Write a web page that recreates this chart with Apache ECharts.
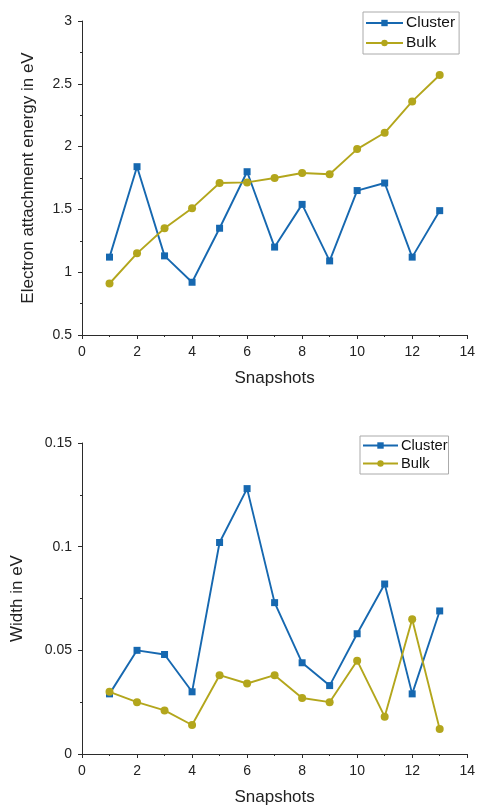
<!DOCTYPE html>
<html>
<head>
<meta charset="utf-8">
<script src="https://cdn.jsdelivr.net/npm/echarts@6/dist/echarts.min.js"></script>
<style>
html,body{margin:0;padding:0;background:#fff;}
#chart{width:478px;height:807px;}
</style>
</head>
<body>
<div id="chart"></div>
<script>
const snapshots = [1,2,3,4,5,6,7,8,9,10,11,12,13];
const energyCluster = [1.12,1.84,1.13,0.92,1.35,1.80,1.20,1.54,1.09,1.65,1.71,1.12,1.49];
const energyBulk = [0.91,1.15,1.35,1.51,1.71,1.715,1.75,1.79,1.78,1.98,2.11,2.36,2.57];
const widthCluster = [0.029,0.050,0.048,0.030,0.102,0.128,0.073,0.044,0.033,0.058,0.082,0.029,0.069];
const widthBulk = [0.030,0.025,0.021,0.014,0.038,0.034,0.038,0.027,0.025,0.045,0.018,0.065,0.012];
const xTicks = [0,2,4,6,8,10,12,14];
const energyTicks = [0.5,1,1.5,2,2.5,3];
const widthTicks = [0,0.05,0.1,0.15];

const FONT = "'Liberation Sans', Arial, sans-serif";
const BLUE = '#1668b0';
const OLIVE = '#b3a61c';
const AX = '#2b2b2b';

function pairs(ys){ return snapshots.map((x,i)=>[x, ys[i]]); }

function xAxisCfg(gi){
  return {
    gridIndex: gi, type:'value', min: xTicks[0], max: xTicks[xTicks.length-1], interval: 2,
    name:'Snapshots', nameLocation:'middle', nameGap: 35,
    nameTextStyle:{fontFamily:FONT,fontSize:17,color:'#222'},
    axisLine:{show:true,lineStyle:{color:AX,width:1}},
    axisTick:{show:true,inside:false,length:4,lineStyle:{color:AX}},
    minorTick:{show:true,splitNumber:2,length:2,lineStyle:{color:AX}},
    splitLine:{show:false},
    axisLabel:{fontFamily:FONT,fontSize:14,color:'#222',margin:10,showMinLabel:true,showMaxLabel:true}
  };
}
function yAxisCfg(gi, ticks, name, gap, fmt){
  return {
    gridIndex: gi, type:'value', min: ticks[0], max: ticks[ticks.length-1], interval: ticks[1]-ticks[0],
    name:name, nameLocation:'middle', nameGap: gap,
    nameTextStyle:{fontFamily:FONT,fontSize:17,color:'#222'},
    axisLine:{show:true,lineStyle:{color:AX,width:1}},
    axisTick:{show:true,inside:false,length:4,lineStyle:{color:AX}},
    minorTick:{show:true,splitNumber:2,length:2,lineStyle:{color:AX}},
    splitLine:{show:false},
    axisLabel:{fontFamily:FONT,fontSize:14,color:'#222',margin:10,formatter:fmt,showMinLabel:true,showMaxLabel:true}
  };
}
function fmtE(v){ return String(Math.round(v*100)/100); }
function fmtW(v){ return String(Math.round(v*1000)/1000); }

function lineSeries(name, color, symbol, size, xi, data){
  return {
    name:name, type:'line', xAxisIndex:xi, yAxisIndex:xi, data:data,
    symbol:symbol, symbolSize:size, showAllSymbol:true,
    lineStyle:{color:color,width:1.9}, itemStyle:{color:color},
    emphasis:{disabled:true}, animation:false, z:2
  };
}

const chart = echarts.init(document.getElementById('chart'), null, {renderer:'canvas'});
chart.setOption({
  backgroundColor:'#fff',
  animation:false,
  grid:[
    {left:82, top:21, width:387, height:314},
    {left:82, top:443, width:386, height:313}
  ],
  xAxis:[xAxisCfg(0), xAxisCfg(1)],
  yAxis:[
    yAxisCfg(0, energyTicks, 'Electron attachment energy in eV', 45, fmtE),
    yAxisCfg(1, widthTicks, 'Width in eV', 56, fmtW)
  ],
  legend:[
    {data:['Cluster','Bulk'], orient:'vertical', left:363, top:12, itemWidth:37, itemHeight:8, itemGap:4,
     padding:[3,4,3,2], borderColor:'#aaaaaa', borderWidth:1, selectedMode:false,
     textStyle:{fontFamily:FONT,fontSize:15.5,color:'#111',padding:[0,0,0,-2]}},
    {data:['Cluster','Bulk'], orient:'vertical', left:360, top:436, itemWidth:35, itemHeight:8, itemGap:3,
     padding:[2,1,3,2], borderColor:'#aaaaaa', borderWidth:1, selectedMode:false,
     textStyle:{fontFamily:FONT,fontSize:14.7,color:'#111',padding:[0,0,0,-2]}}
  ],
  series:[
    lineSeries('Cluster', BLUE, 'rect', 7, 0, pairs(energyCluster)),
    lineSeries('Bulk', OLIVE, 'circle', 8, 0, pairs(energyBulk)),
    lineSeries('Cluster', BLUE, 'rect', 7, 1, pairs(widthCluster)),
    lineSeries('Bulk', OLIVE, 'circle', 8, 1, pairs(widthBulk))
  ]
});
</script>
</body>
</html>
